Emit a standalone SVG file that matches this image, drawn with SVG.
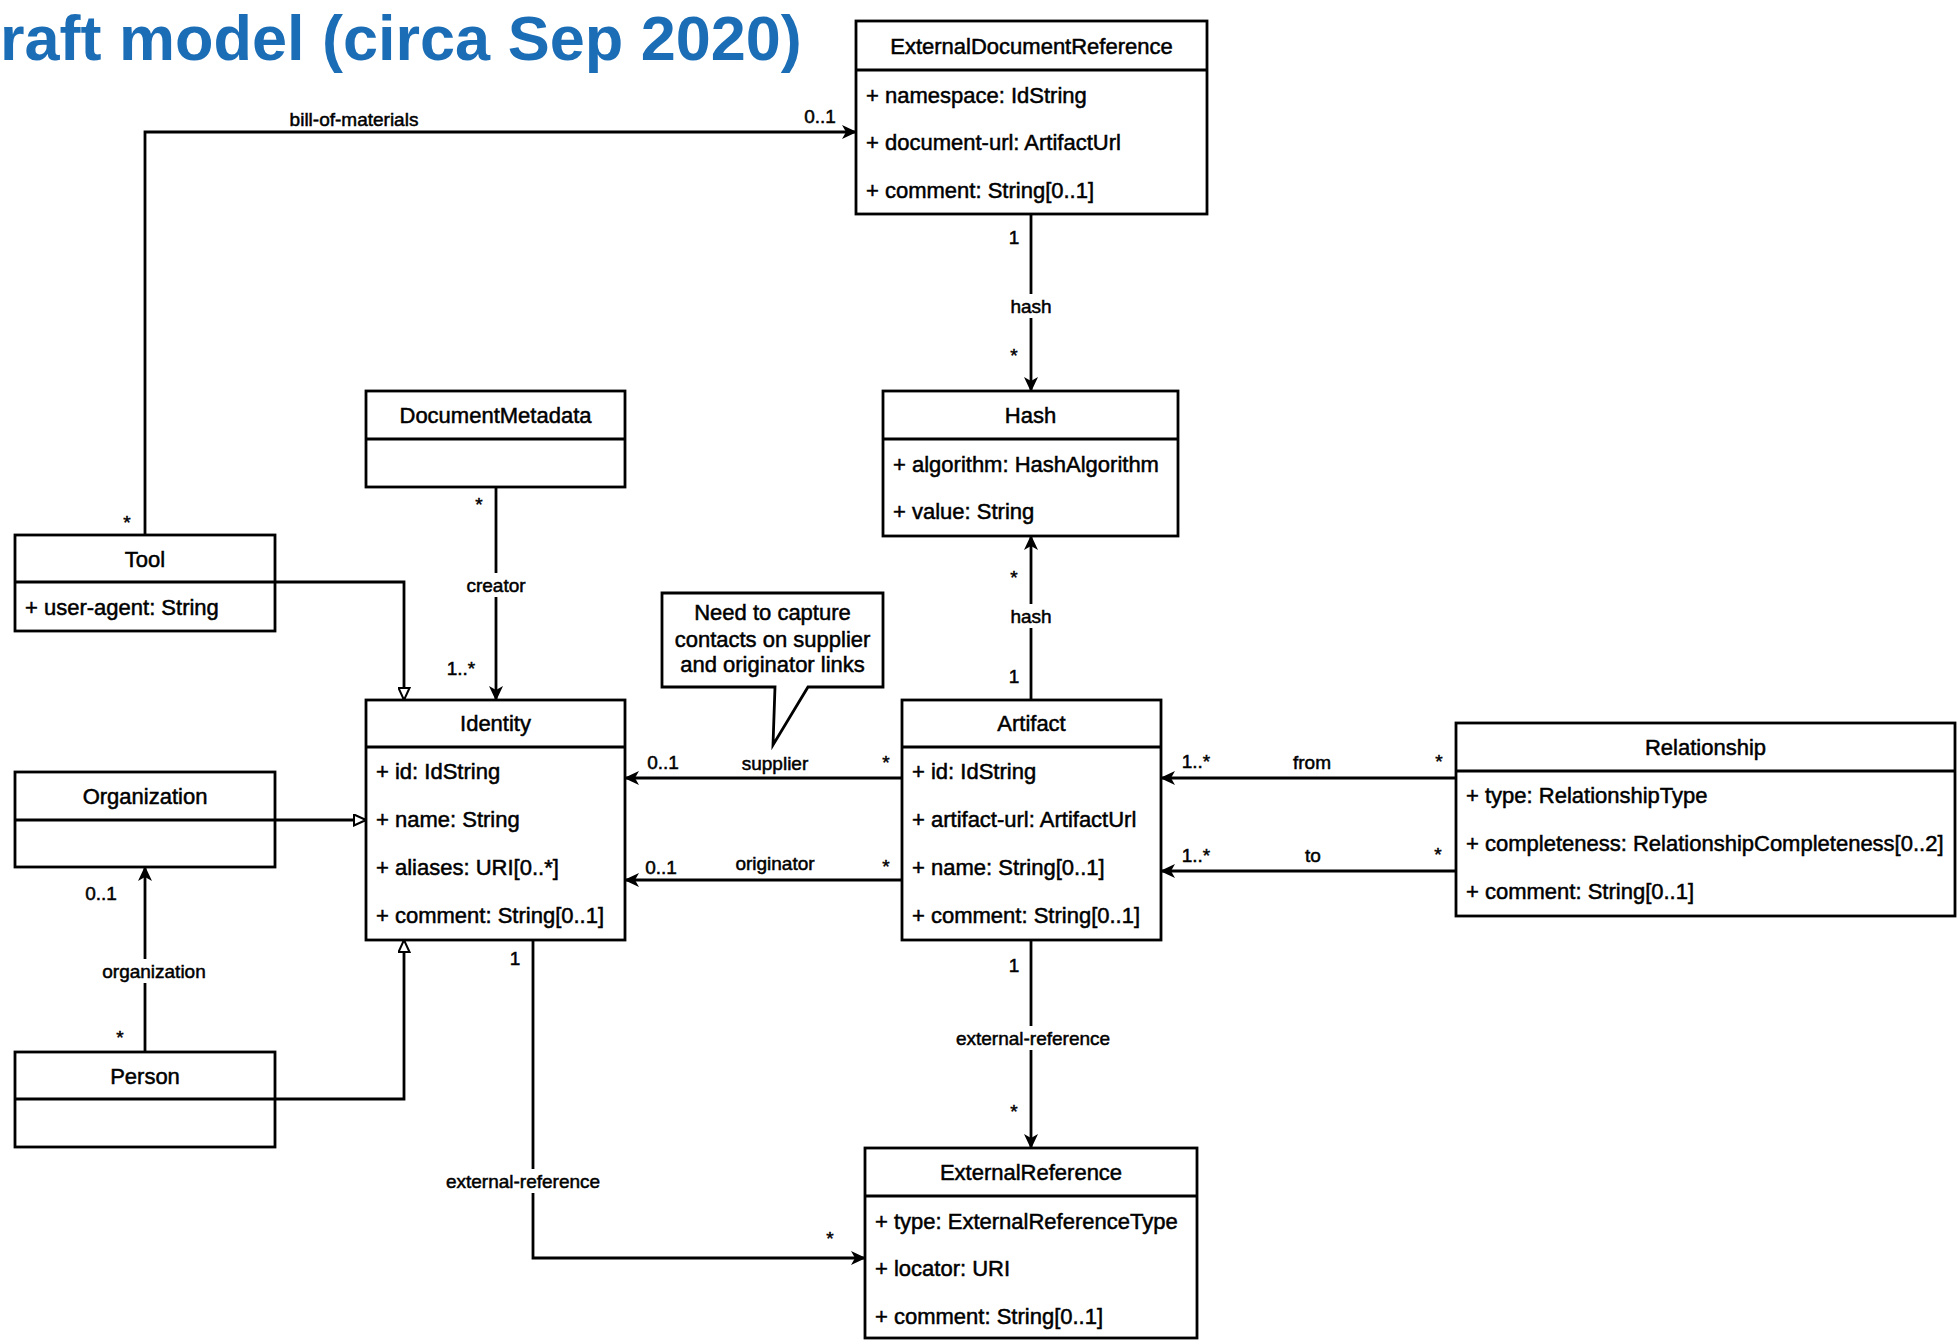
<svg xmlns="http://www.w3.org/2000/svg" width="1959" height="1340" viewBox="0 0 1959 1340">
  <style>
    .box { fill: #fff; stroke: #000; stroke-width: 2.8; }
    .sep { stroke: #000; stroke-width: 2.8; }
    .cls { font-family: "Liberation Sans", Arial, sans-serif; font-size: 22px; text-anchor: middle; fill: #000; stroke: #000; stroke-width: 0.5; }
    .attr { font-family: "Liberation Sans", Arial, sans-serif; font-size: 22px; fill: #000; stroke: #000; stroke-width: 0.5; }
    .lbl { font-family: "Liberation Sans", Arial, sans-serif; font-size: 19px; text-anchor: middle; fill: #000; stroke: #000; stroke-width: 0.5; }
    .edge { fill: none; stroke: #000; stroke-width: 2.8; }
    .assoc { marker-end: url(#arrow); }
    .gen { marker-end: url(#triangle); }
    .bg { fill: #fff; }
    .title { font-family: "Liberation Sans", Arial, sans-serif; font-size: 63px; font-weight: bold; fill: #1b6db6; }
  </style>
  <defs>
    <marker id="arrow" markerUnits="userSpaceOnUse" viewBox="0 0 15 14" refX="14" refY="7" markerWidth="15" markerHeight="14" orient="auto">
      <path d="M0,0 L15,7 L0,14 L4,7 Z" fill="#000"/>
    </marker>
    <marker id="triangle" markerUnits="userSpaceOnUse" viewBox="-1 -1 14 13" refX="12" refY="5.5" markerWidth="14" markerHeight="13" orient="auto">
      <path d="M0,0 L12,5.5 L0,11 Z" fill="#fff" stroke="#000" stroke-width="2"/>
    </marker>
  </defs>
  <rect width="1959" height="1340" fill="#fff"/>

  <text class="title" x="0" y="60">raft model (circa Sep 2020)</text>

  <!-- connectors -->
  <g id="connectors">
    <!-- bill-of-materials: Tool -> ExternalDocumentReference -->
    <path class="edge assoc" d="M145,535 V132 H856"/>
    <text class="lbl" x="354" y="126">bill-of-materials</text>
    <text class="lbl" x="820" y="123">0..1</text>
    <text class="lbl" x="127" y="529">*</text>

    <!-- hash: ExternalDocumentReference -> Hash -->
    <path class="edge assoc" d="M1031,214 V391"/>
    <rect class="bg" x="1008" y="294" width="46" height="24"/>
    <text class="lbl" x="1031" y="313">hash</text>
    <text class="lbl" x="1014" y="244">1</text>
    <text class="lbl" x="1014" y="362">*</text>

    <!-- hash: Artifact -> Hash -->
    <path class="edge assoc" d="M1031,700 V536"/>
    <rect class="bg" x="1008" y="604" width="46" height="24"/>
    <text class="lbl" x="1031" y="623">hash</text>
    <text class="lbl" x="1014" y="584">*</text>
    <text class="lbl" x="1014" y="683">1</text>

    <!-- creator: DocumentMetadata -> Identity -->
    <path class="edge assoc" d="M496,487 V700"/>
    <rect class="bg" x="464" y="573" width="64" height="24"/>
    <text class="lbl" x="496" y="592">creator</text>
    <text class="lbl" x="479" y="511">*</text>
    <text class="lbl" x="461" y="675">1..*</text>

    <!-- generalizations to Identity -->
    <path class="edge gen" d="M275,582 H404 V700"/>
    <path class="edge gen" d="M275,820 H366"/>
    <path class="edge gen" d="M275,1099 H404 V940"/>

    <!-- organization: Person -> Organization -->
    <path class="edge assoc" d="M145,1052 V867"/>
    <rect class="bg" x="98" y="959" width="112" height="24"/>
    <text class="lbl" x="154" y="978">organization</text>
    <text class="lbl" x="101" y="900">0..1</text>
    <text class="lbl" x="120" y="1044">*</text>

    <!-- supplier / originator: Artifact -> Identity -->
    <path class="edge assoc" d="M902,778 H625"/>
    <text class="lbl" x="663" y="769">0..1</text>
    <text class="lbl" x="775" y="770">supplier</text>
    <text class="lbl" x="886" y="769">*</text>

    <path class="edge assoc" d="M902,880 H625"/>
    <text class="lbl" x="661" y="874">0..1</text>
    <text class="lbl" x="775" y="870">originator</text>
    <text class="lbl" x="886" y="873">*</text>

    <!-- from / to: Relationship -> Artifact -->
    <path class="edge assoc" d="M1456,778 H1161"/>
    <text class="lbl" x="1196" y="768">1..*</text>
    <text class="lbl" x="1312" y="769">from</text>
    <text class="lbl" x="1439" y="768">*</text>

    <path class="edge assoc" d="M1456,871 H1161"/>
    <text class="lbl" x="1196" y="862">1..*</text>
    <text class="lbl" x="1313" y="862">to</text>
    <text class="lbl" x="1438" y="861">*</text>

    <!-- external-reference: Artifact -> ExternalReference -->
    <path class="edge assoc" d="M1031,940 V1148"/>
    <rect class="bg" x="950" y="1026" width="166" height="24"/>
    <text class="lbl" x="1033" y="1045">external-reference</text>
    <text class="lbl" x="1014" y="972">1</text>
    <text class="lbl" x="1014" y="1118">*</text>

    <!-- external-reference: Identity -> ExternalReference -->
    <path class="edge assoc" d="M533,940 V1258 H865"/>
    <rect class="bg" x="440" y="1169" width="166" height="24"/>
    <text class="lbl" x="523" y="1188">external-reference</text>
    <text class="lbl" x="515" y="965">1</text>
    <text class="lbl" x="830" y="1245">*</text>
  </g>

  <!-- classes -->
  <g id="ExternalDocumentReference">
    <rect class="box" x="856" y="21" width="351" height="193"/>
    <line class="sep" x1="856" y1="70" x2="1207" y2="70"/>
    <text class="cls" x="1031.5" y="54">ExternalDocumentReference</text>
    <text class="attr" x="866" y="103">+ namespace: IdString</text>
    <text class="attr" x="866" y="150">+ document-url: ArtifactUrl</text>
    <text class="attr" x="866" y="198">+ comment: String[0..1]</text>
  </g>

  <g id="Hash">
    <rect class="box" x="883" y="391" width="295" height="145"/>
    <line class="sep" x1="883" y1="439" x2="1178" y2="439"/>
    <text class="cls" x="1030.5" y="423">Hash</text>
    <text class="attr" x="893" y="472">+ algorithm: HashAlgorithm</text>
    <text class="attr" x="893" y="519">+ value: String</text>
  </g>

  <g id="DocumentMetadata">
    <rect class="box" x="366" y="391" width="259" height="96"/>
    <line class="sep" x1="366" y1="439" x2="625" y2="439"/>
    <text class="cls" x="495.5" y="423">DocumentMetadata</text>
  </g>

  <g id="Tool">
    <rect class="box" x="15" y="535" width="260" height="96"/>
    <line class="sep" x1="15" y1="582" x2="275" y2="582"/>
    <text class="cls" x="145" y="567">Tool</text>
    <text class="attr" x="25" y="615">+ user-agent: String</text>
  </g>

  <g id="Identity">
    <rect class="box" x="366" y="700" width="259" height="240"/>
    <line class="sep" x1="366" y1="747" x2="625" y2="747"/>
    <text class="cls" x="495.5" y="731">Identity</text>
    <text class="attr" x="376" y="779">+ id: IdString</text>
    <text class="attr" x="376" y="827">+ name: String</text>
    <text class="attr" x="376" y="875">+ aliases: URI[0..*]</text>
    <text class="attr" x="376" y="923">+ comment: String[0..1]</text>
  </g>

  <g id="Artifact">
    <rect class="box" x="902" y="700" width="259" height="240"/>
    <line class="sep" x1="902" y1="747" x2="1161" y2="747"/>
    <text class="cls" x="1031.5" y="731">Artifact</text>
    <text class="attr" x="912" y="779">+ id: IdString</text>
    <text class="attr" x="912" y="827">+ artifact-url: ArtifactUrl</text>
    <text class="attr" x="912" y="875">+ name: String[0..1]</text>
    <text class="attr" x="912" y="923">+ comment: String[0..1]</text>
  </g>

  <g id="Organization">
    <rect class="box" x="15" y="772" width="260" height="95"/>
    <line class="sep" x1="15" y1="820" x2="275" y2="820"/>
    <text class="cls" x="145" y="804">Organization</text>
  </g>

  <g id="Person">
    <rect class="box" x="15" y="1052" width="260" height="95"/>
    <line class="sep" x1="15" y1="1099" x2="275" y2="1099"/>
    <text class="cls" x="145" y="1084">Person</text>
  </g>

  <g id="Relationship">
    <rect class="box" x="1456" y="723" width="499" height="193"/>
    <line class="sep" x1="1456" y1="771" x2="1955" y2="771"/>
    <text class="cls" x="1705.5" y="755">Relationship</text>
    <text class="attr" x="1466" y="803">+ type: RelationshipType</text>
    <text class="attr" x="1466" y="851">+ completeness: RelationshipCompleteness[0..2]</text>
    <text class="attr" x="1466" y="899">+ comment: String[0..1]</text>
  </g>

  <g id="ExternalReference">
    <rect class="box" x="865" y="1148" width="332" height="190"/>
    <line class="sep" x1="865" y1="1196" x2="1197" y2="1196"/>
    <text class="cls" x="1031" y="1180">ExternalReference</text>
    <text class="attr" x="875" y="1229">+ type: ExternalReferenceType</text>
    <text class="attr" x="875" y="1276">+ locator: URI</text>
    <text class="attr" x="875" y="1324">+ comment: String[0..1]</text>
  </g>

  <!-- note callout -->
  <g id="note">
    <path class="box" d="M662,593 H883 V687 H808 L773,745 L775,687 H662 Z"/>
    <text class="cls" x="772.5" y="620">Need to capture</text>
    <text class="cls" x="772.5" y="647">contacts on supplier</text>
    <text class="cls" x="772.5" y="672">and originator links</text>
  </g>
</svg>
